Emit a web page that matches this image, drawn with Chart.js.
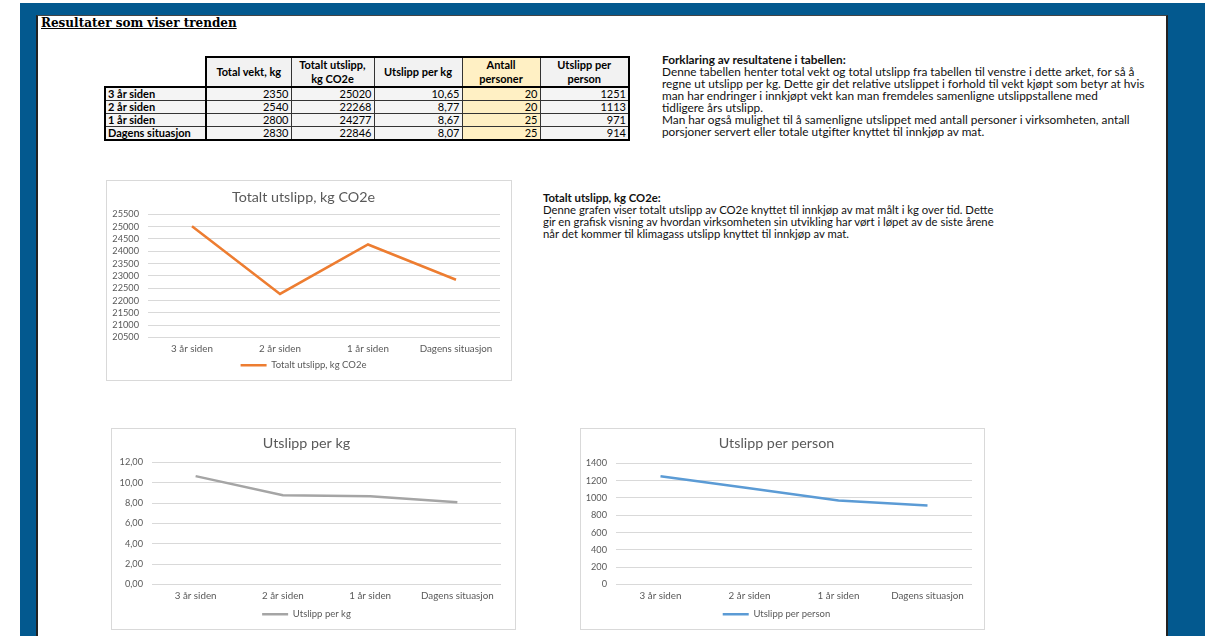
<!DOCTYPE html>
<html><head><meta charset="utf-8">
<script src="https://cdn.jsdelivr.net/npm/chart.js@4.4.1/dist/chart.umd.min.js"></script>
<style>
html,body{margin:0;padding:0;width:1211px;height:636px;overflow:hidden;background:#fff;font-family:Lato,"Open Sans",sans-serif;}
#blue{position:absolute;left:20px;top:3px;width:1185px;height:633px;background:#03598F;}
#panel{position:absolute;left:36px;top:15px;width:1132px;height:621px;background:#fff;border-left:2px solid #222;border-right:2px solid #222;border-top:1px solid #444;box-sizing:border-box;}
#title{position:absolute;left:41px;top:16px;font:bold 12px "DejaVu Serif",serif;text-decoration:underline;color:#000;white-space:nowrap;}
.txt{position:absolute;white-space:nowrap;font-size:10px;line-height:12px;color:#111;}
#tbl{position:absolute;left:104px;top:56px;border-collapse:collapse;table-layout:fixed;font-size:11px;color:#000;}
#tbl td,#tbl th{border:1px solid #333;padding:0 2px;line-height:12px;overflow:hidden;white-space:nowrap;}
#tbl th{background:#F2F2F2;font-weight:bold;text-align:center;height:28px;border-top:2px solid #000;border-bottom:2px solid #000;line-height:14px;}
#tbl th.empty{background:transparent;border:none;border-bottom:2px solid #000;border-right:2px solid #000;}
#tbl td{background:#F4F4F4;text-align:right;height:12px;}
#tbl td.lab{font-weight:bold;text-align:left;border-left:2px solid #000;border-right:2px solid #000;}
#tbl .yel{background:#FFF0C4;}
#tbl .last{border-right:2px solid #000;}
#tbl tr:last-child td{border-bottom:2px solid #000;}
.box{position:absolute;border:1px solid #D9D9D9;background:#fff;box-sizing:border-box;}
.box canvas{position:absolute;left:0;top:0;}
</style>
</head><body>
<div id="blue"></div>
<div id="panel"></div>
<div id="title">Resultater som viser trenden</div>
<table id="tbl"></table>
<div class="txt" id="t1" style="left:662px;top:54px"></div>
<div class="txt" id="t2" style="left:543px;top:192px"></div>
<div class="box" style="left:106px;top:180px;width:406px;height:201px"><canvas id="c1"></canvas></div>
<div class="box" style="left:111px;top:428px;width:405px;height:202px"><canvas id="c2"></canvas></div>
<div class="box" style="left:580px;top:428px;width:405px;height:202px"><canvas id="c3"></canvas></div>
<script>
// ---- data ----
const categories = ['3 år siden', '2 år siden', '1 år siden', 'Dagens situasjon'];
const totalVekt = [2350, 2540, 2800, 2830];
const totaltUtslipp = [25020, 22268, 24277, 22846];
const utslippPerKg = [10.65, 8.77, 8.67, 8.07];
const antallPersoner = [20, 20, 25, 25];
const utslippPerPerson = [1251, 1113, 971, 914];
const tableHeaders = ['Total vekt, kg', 'Totalt utslipp,<br>kg CO2e', 'Utslipp per kg', 'Antall<br>personer', 'Utslipp per<br>person'];
const colWidths = [101, 85, 83, 88, 78, 89];
const chartTitles = ['Totalt utslipp, kg CO2e', 'Utslipp per kg', 'Utslipp per person'];

const text1 = [
  'Denne tabellen henter total vekt og total utslipp fra tabellen til venstre i dette arket, for så å',
  'regne ut utslipp per kg. Dette gir det relative utslippet i forhold til vekt kjøpt som betyr at hvis',
  'man har endringer i innkjøpt vekt kan man fremdeles samenligne utslippstallene med',
  'tidligere års utslipp.',
  'Man har også mulighet til å samenligne utslippet med antall personer i virksomheten, antall',
  'porsjoner servert eller totale utgifter knyttet til innkjøp av mat.'
];
const text2 = [
  'Denne grafen viser totalt utslipp av CO2e knyttet til innkjøp av mat målt i kg over tid. Dette',
  'gir en grafisk visning av hvordan virksomheten sin utvikling har vørt i løpet av de siste årene',
  'når det kommer til klimagass utslipp knyttet til innkjøp av mat.'
];

const fmt2 = v => v.toFixed(2).replace('.', ',');

// ---- table ----
(function(){
  const t = document.getElementById('tbl');
  let html = '<colgroup>' + colWidths.map(w => '<col style="width:' + w + 'px">').join('') + '</colgroup>';
  html += '<tr><th class="empty"></th>' + tableHeaders.map((h, i) => '<th class="' + (i === 3 ? 'yel' : '') + (i === 4 ? ' last' : '') + '">' + h + '</th>').join('') + '</tr>';
  categories.forEach((c, i) => {
    html += '<tr><td class="lab">' + c + '</td><td>' + totalVekt[i] + '</td><td>' + totaltUtslipp[i] + '</td><td>' + fmt2(utslippPerKg[i]) +
      '</td><td class="yel">' + antallPersoner[i] + '</td><td class="last">' + utslippPerPerson[i] + '</td></tr>';
  });
  t.innerHTML = html;
})();

// ---- text ----
function fillText(id, head, lines, target) {
  const el = document.getElementById(id);
  el.innerHTML = '<b>' + head + '</b><br>' + lines.join('<br>');
  const ctx = document.createElement('canvas').getContext('2d');
  ctx.font = '10px Lato';
  const w = ctx.measureText(lines[0]).width;
  el.style.fontSize = (10 * target / w).toFixed(2) + 'px';
}
fillText('t1', 'Forklaring av resultatene i tabellen:', text1, 474);
fillText('t2', 'Totalt utslipp, kg CO2e:', text2, 452);

// ---- charts ----
Chart.defaults.font.family = 'Lato, "Open Sans", sans-serif';
Chart.defaults.color = '#595959';

function makeChart(id, w, h, title, label, values, color, y, lay) {
  const cv = document.getElementById(id);
  cv.width = w; cv.height = h;
  return new Chart(cv, {
    type: 'line',
    data: { labels: categories, datasets: [{ label, data: values, borderColor: color, backgroundColor: color, borderWidth: 2.5, pointRadius: 0, tension: 0, fill: false }] },
    options: {
      responsive: false, animation: false, devicePixelRatio: 1,
      layout: { padding: { left: 0, right: lay.right, top: 0, bottom: 0 } },
      plugins: {
        title: { display: true, text: title, color: '#595959', font: { size: 14.3, weight: 'normal' }, padding: { top: lay.tTop, bottom: lay.tBot } },
        legend: { position: 'bottom', labels: { usePointStyle: true, pointStyle: 'line', pointStyleWidth: 26, font: { size: 9.5 }, color: '#595959', padding: 2 } },
        tooltip: { enabled: false }
      },
      scales: {
        x: { offset: true, grid: { display: false, drawTicks: false }, border: { display: false },
             ticks: { font: { size: 9.8 }, color: '#595959', padding: lay.xPad, maxRotation: 0, autoSkip: false },
             afterFit: s => { s.height = lay.xH; } },
        y: { min: y.min, max: y.max, grid: { color: '#D9D9D9', drawTicks: false, lineWidth: 1 }, border: { display: false },
             ticks: { stepSize: y.step, autoSkip: false, font: { size: 9.2 }, color: '#595959', padding: 9, callback: y.fmt },
             afterFit: s => { s.width = lay.yW; } }
      }
    }
  });
}

makeChart('c1', 404, 199, chartTitles[0], 'Totalt utslipp, kg CO2e', totaltUtslipp, '#ED7D31',
  { min: 20500, max: 25500, step: 500, fmt: v => v }, { right: 11, tTop: 8, tBot: 8.2, xH: 21, xPad: 5.6, yW: 41 });
makeChart('c2', 403, 200, chartTitles[1], 'Utslipp per kg', utslippPerKg, '#A5A5A5',
  { min: 0, max: 12, step: 2, fmt: v => fmt2(v) }, { right: 14, tTop: 5.6, tBot: 10.6, xH: 23, xPad: 5.6, yW: 40 });
makeChart('c3', 403, 200, chartTitles[2], 'Utslipp per person', utslippPerPerson, '#5B9BD5',
  { min: 0, max: 1400, step: 200, fmt: v => v }, { right: 12, tTop: 5.6, tBot: 11.6, xH: 23, xPad: 5.6, yW: 35 });
</script>
</body></html>
